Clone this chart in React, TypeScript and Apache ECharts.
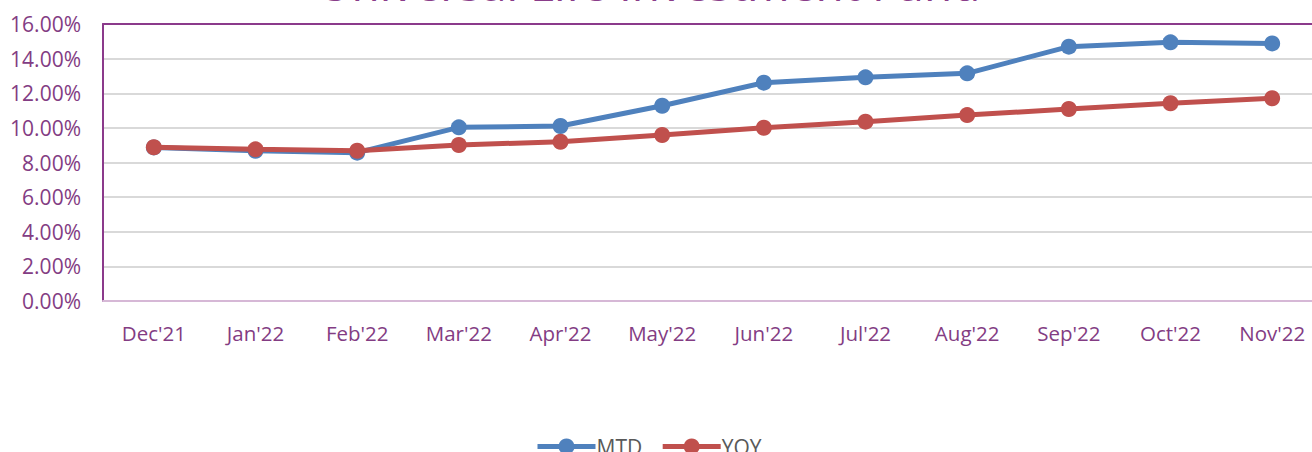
import React, { useEffect, useRef } from "react";
import * as echarts from "echarts";

const categories = ["Dec'21", "Jan'22", "Feb'22", "Mar'22", "Apr'22", "May'22", "Jun'22", "Jul'22", "Aug'22", "Sep'22", "Oct'22", "Nov'22"];
const mtd = [8.87, 8.68, 8.57, 10.03, 10.11, 11.28, 12.61, 12.92, 13.15, 14.69, 14.94, 14.88];
const yoy = [8.88, 8.76, 8.68, 9.01, 9.2, 9.59, 10.01, 10.36, 10.74, 11.09, 11.42, 11.71];
const yTicks = { min: 0, max: 16, interval: 2 };
const titleText = "Universal Life Investment Fund";

const FONT = "'Open Sans', 'Noto Sans', sans-serif";
const PURPLE = "#833C83";
const BLUE = "#4F81BD";
const RED = "#C0504D";

export default function App() {
  const ref = useRef<HTMLDivElement>(null);
  useEffect(() => {
    if (!ref.current) return;
    const chart = echarts.init(ref.current, undefined, { renderer: "svg" });
    chart.setOption({
      animation: false,
      backgroundColor: "#ffffff",
      title: {
        text: titleText,
        left: 313,
        top: -45,
        textStyle: { color: "#8A3D8A", fontFamily: FONT, fontSize: 46, fontWeight: "normal" },
      },
      legend: {
        left: 530,
        top: 431,
        itemWidth: 58,
        itemHeight: 20,
        itemGap: 18,
        textStyle: { color: "#595959", fontFamily: FONT, fontSize: 21, padding: [0, 0, 0, -4] },
        data: [
          { name: "MTD", itemStyle: { color: BLUE }, lineStyle: { color: BLUE, width: 5 } },
          { name: "YOY", itemStyle: { color: RED }, lineStyle: { color: RED, width: 5 } },
        ],
      },
      grid: {
        left: 103,
        right: -11,
        top: 24,
        bottom: 151,
        outerBoundsMode: "none",
        containLabel: false,
        show: false,
      },
      xAxis: [
        {
          type: "category",
          data: categories,
          boundaryGap: true,
          axisLine: { show: true, lineStyle: { color: "#D6B8D6", width: 2 } },
          axisTick: { show: false },
          axisLabel: { color: PURPLE, fontFamily: FONT, fontSize: 20.5, margin: 21, interval: 0 },
          z: 5,
        },
        {
          type: "category",
          position: "top",
          data: categories,
          axisLine: { show: true, lineStyle: { color: "#8B3A8B", width: 2 } },
          axisTick: { show: false },
          axisLabel: { show: false },
          z: 5,
        },
      ],
      yAxis: {
        type: "value",
        min: yTicks.min,
        max: yTicks.max,
        interval: yTicks.interval,
        axisLine: { show: true, lineStyle: { color: "#8B3A8B", width: 2 } },
        axisTick: { show: false },
        axisLabel: {
          color: PURPLE,
          fontFamily: FONT,
          fontSize: 21,
          margin: 22,
          formatter: (v: number) => v.toFixed(2) + "%",
        },
        splitLine: { show: true, lineStyle: { color: "#D9D9D9", width: 2 } },
        z: 5,
      },
      series: [
        {
          name: "MTD",
          type: "line",
          data: mtd,
          symbol: "circle",
          symbolSize: 16,
          lineStyle: { color: BLUE, width: 5 },
          itemStyle: { color: BLUE },
          z: 6,
        },
        {
          name: "YOY",
          type: "line",
          data: yoy,
          symbol: "circle",
          symbolSize: 16,
          lineStyle: { color: RED, width: 5 },
          itemStyle: { color: RED },
          z: 7,
        },
      ],
    });
    return () => chart.dispose();
  }, []);
  return (
    <div
      ref={ref}
      style={{ position: "fixed", left: 0, top: 0, width: 1312, height: 452 }}
    />
  );
}
